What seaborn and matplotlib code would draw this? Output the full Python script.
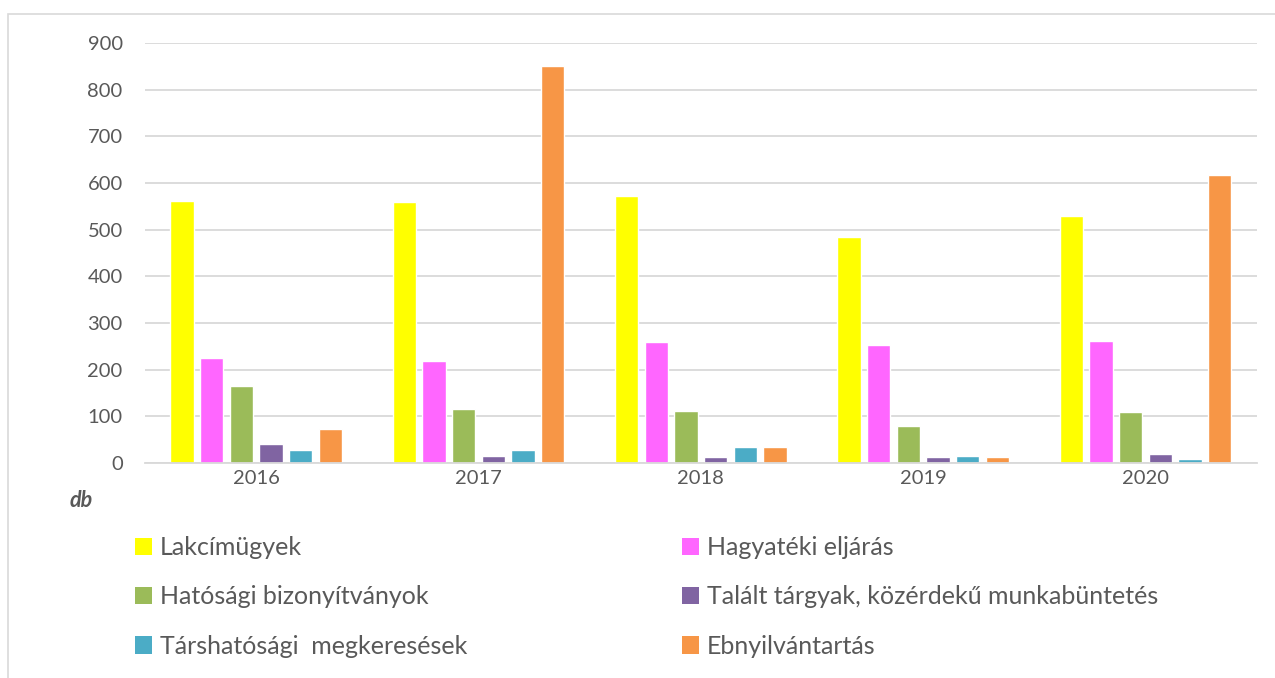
import numpy as np
import pandas as pd
import seaborn as sns
import matplotlib.pyplot as plt
from matplotlib.patches import Patch, Rectangle

# ─── DATA ─────────────────────────────────────────────
years = ["2016", "2017", "2018", "2019", "2020"]
categories = [
    "Lakcímügyek",
    "Hagyatéki eljárás",
    "Hatósági bizonyítványok",
    "Talált tárgyak, közérdekű munkabüntetés",
    "Társhatósági  megkeresések",
    "Ebnyilvántartás",
]
lakcim      = [561, 559, 573, 484, 530]
hagyateki   = [226, 219, 259, 252, 261]
hatosagi    = [166, 116, 112, 79, 109]
talalt      = [41, 16, 14, 13, 19]
tarshatosag = [27, 28, 34, 15, 9]
eb          = [74, 851, 34, 14, 617]
colors = ["#FFFF00", "#FF66FF", "#9BBB59", "#8064A2", "#4BACC6", "#F79646"]
# ──────────────────────────────────────────────────────

series = [lakcim, hagyateki, hatosagi, talalt, tarshatosag, eb]
df = pd.DataFrame({
    "year": np.repeat([years], len(categories), axis=0).ravel(),
    "category": np.repeat(categories, len(years)),
    "value": np.concatenate(series),
})

sns.set_style("white")
plt.rcParams["font.family"] = ["Lato", "DejaVu Sans"]
text_color = "#595959"
grid_color = "#D9D9D9"

fig = plt.figure(figsize=(12.75, 6.78), dpi=100)
ax = fig.add_axes([0.1137, 0.317, 0.872, 0.6196])

sns.barplot(data=df, x="year", y="value", hue="category", hue_order=categories,
            palette=colors, saturation=1, width=0.80, gap=0.21, legend=False, ax=ax)

ax.set_ylim(0, 900)
ax.set_yticks(range(0, 901, 100))
ax.yaxis.grid(True, color=grid_color, linewidth=1.3)
ax.set_axisbelow(True)
for s in ["top", "right", "left"]:
    ax.spines[s].set_visible(False)
ax.spines["bottom"].set_color(grid_color)
ax.spines["bottom"].set_linewidth(1.3)
ax.tick_params(axis="both", length=0, labelsize=14.5, labelcolor=text_color)
ax.tick_params(axis="y", pad=16)
ax.tick_params(axis="x", pad=5)
ax.set_xlabel("")
ax.set_ylabel("")

fig.text(0.064, 0.262, "db", fontsize=15.5, fontweight="bold", fontstyle="italic",
         color=text_color, ha="center", va="center")

# outer chart frame (cropped)
fig.add_artist(Rectangle((0.0063, -0.05), 1.1, 1.03, transform=fig.transFigure,
                         fill=False, edgecolor=grid_color, linewidth=1.2))

# legend in two columns, read row by row
handles = [Patch(facecolor=c, edgecolor="none") for c in colors]
for col, x0 in enumerate([0.098, 0.527]):
    idx = [col, col + 2, col + 4]
    fig.legend([handles[i] for i in idx], [categories[i] for i in idx],
               loc="upper left", bbox_to_anchor=(x0, 0.224), frameon=False,
               fontsize=18, labelcolor=text_color, handlelength=0.7,
               handleheight=0.7, handletextpad=0.3, labelspacing=1.05,
               borderaxespad=0)

fig.savefig("out.png", dpi=100)
